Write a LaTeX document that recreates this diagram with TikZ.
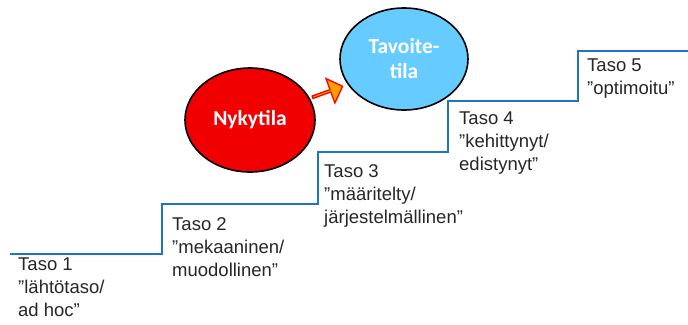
\documentclass[tikz,border=0pt]{standalone}
\usepackage{fontspec}
\setmainfont{Liberation Sans}
\newfontfamily\ellfont{Carlito}
\usetikzlibrary{shapes.arrows,shapes.geometric}
\definecolor{stairblue}{HTML}{1F74C4}
\definecolor{goalblue}{HTML}{66CCFF}
\definecolor{nowred}{HTML}{F00000}
\definecolor{arroworange}{HTML}{FFA000}
\tikzset{
  stair/.style={draw=stairblue, line width=2.4pt, line join=miter},
  level/.style={anchor=north west, align=left, inner sep=0pt, font=\fontsize{18.5}{23}\selectfont, text=black!85},
  state/.style={ellipse, draw=black, line width=1.6pt, inner sep=0pt, text=white, align=center, font=\ellfont\bfseries\fontsize{21.5}{25}\selectfont},
  bigarrow/.style={single arrow, draw=red, fill=arroworange, line width=1.3pt, minimum height=32pt, minimum width=26pt, single arrow head extend=6pt, inner sep=0pt}
}
\begin{document}
\begin{tikzpicture}[x=1pt, y=-1pt]
\useasboundingbox (0,0) rectangle (688,324);
\coordinate (s0) at (10,254);
\coordinate (s1) at (162,254);
\coordinate (s2) at (162,204);
\coordinate (s3) at (318,204);
\coordinate (s4) at (318,152);
\coordinate (s5) at (448,152);
\coordinate (s6) at (448,101);
\coordinate (s7) at (578,101);
\coordinate (s8) at (578,51);
\coordinate (s9) at (688,51);
\draw[stair] (s0) -- (s1) -- (s2) -- (s3) -- (s4) -- (s5) -- (s6) -- (s7) -- (s8) -- (s9);

\node[level] (t1) at (18,258) {Taso 1\\”lähtötaso/\\ad hoc”};
\node[level] (t2) at (172,217) {Taso 2\\”mekaaninen/\\muodollinen”};
\node[level] (t3) at (324,164) {Taso 3\\”määritelty/\\järjestelmällinen”};
\node[level] (t4) at (459,112) {Taso 4\\”kehittynyt/\\edistynyt”};
\node[level] (t5) at (587,59) {Taso 5\\”optimoitu”};

\node[state, fill=nowred, minimum width=130pt, minimum height=104pt] (now) at (250,120) {Nykytila};
\node[state, fill=goalblue, minimum width=128pt, minimum height=102pt] (goal) at (404,59) {Tavoite-\\tila};

\node[bigarrow, rotate=20] (arr) at (327,92) {};
\end{tikzpicture}
\end{document}
